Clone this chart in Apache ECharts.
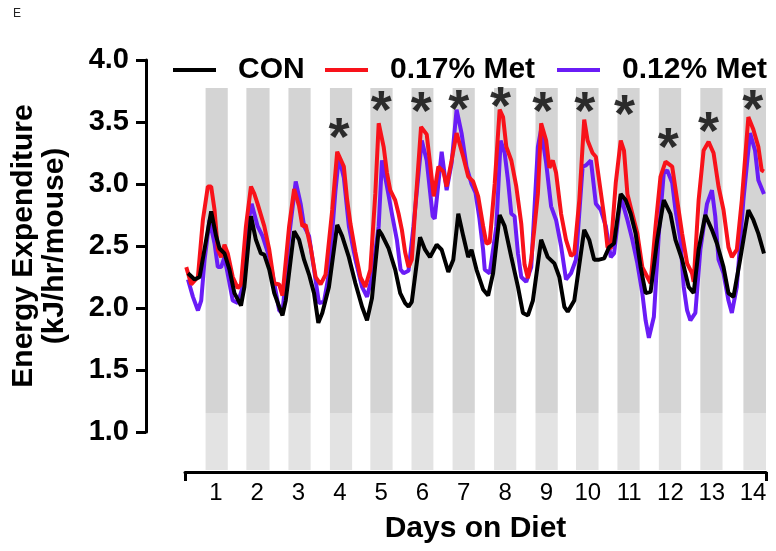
<!DOCTYPE html>
<html><head><meta charset="utf-8">
<script src="https://cdn.jsdelivr.net/npm/echarts@6/dist/echarts.min.js"></script>
<style>html,body{margin:0;padding:0;background:#fff}#c{width:776px;height:551px}</style>
</head><body><div id="c"></div>
<script>
// ---- data ----
const dayTicks = [1,2,3,4,5,6,7,8,9,10,11,12,13,14];
const seriesNames = ['CON','0.17% Met','0.12% Met'];
// dark (lights-off) phases, in days on diet
const darkPhases = [[0.752,1.289],[1.739,2.300],[2.757,3.294],[3.761,4.298],[4.739,5.278],[5.735,6.265],[6.729,7.266],[7.733,8.270],[8.735,9.274],[9.715,10.261],[10.718,11.255],[11.720,12.259],[12.724,13.261],[13.766,14.313]];
const conData = [[0.326,2.28],[0.487,2.23],[0.608,2.25],[0.887,2.78],[1.007,2.58],[1.089,2.48],[1.209,2.44],[1.330,2.31],[1.450,2.12],[1.609,2.02],[1.691,2.17],[1.850,2.74],[1.970,2.55],[2.091,2.44],[2.172,2.43],[2.293,2.31],[2.413,2.12],[2.533,2.01],[2.613,1.94],[2.692,2.06],[2.895,2.62],[3.015,2.55],[3.135,2.39],[3.256,2.27],[3.376,2.12],[3.480,1.88],[3.576,1.96],[3.737,2.17],[3.937,2.67],[4.057,2.58],[4.219,2.41],[4.377,2.20],[4.539,2.01],[4.659,1.90],[4.779,2.08],[4.941,2.63],[5.020,2.59],[5.181,2.48],[5.340,2.31],[5.461,2.12],[5.581,2.04],[5.663,2.01],[5.742,2.05],[5.942,2.57],[6.063,2.47],[6.183,2.41],[6.344,2.51],[6.465,2.47],[6.626,2.29],[6.746,2.39],[6.867,2.76],[6.987,2.58],[7.107,2.41],[7.187,2.47],[7.307,2.31],[7.468,2.15],[7.589,2.10],[7.709,2.28],[7.868,2.75],[7.989,2.66],[8.150,2.41],[8.311,2.17],[8.431,1.96],[8.552,1.94],[8.672,2.06],[8.872,2.55],[9.033,2.41],[9.192,2.36],[9.312,2.25],[9.433,2.01],[9.515,1.97],[9.674,2.06],[9.914,2.63],[10.035,2.55],[10.155,2.39],[10.275,2.39],[10.396,2.40],[10.516,2.49],[10.636,2.52],[10.798,2.92],[10.918,2.87],[11.039,2.76],[11.159,2.60],[11.279,2.33],[11.400,2.12],[11.520,2.13],[11.681,2.55],[11.840,2.87],[12.001,2.76],[12.122,2.55],[12.283,2.39],[12.442,2.17],[12.562,2.12],[12.683,2.47],[12.844,2.75],[13.005,2.63],[13.126,2.52],[13.285,2.33],[13.405,2.12],[13.526,2.09],[13.687,2.39],[13.886,2.79],[14.007,2.71],[14.128,2.60],[14.264,2.44]];
const met017Data = [[0.285,2.33],[0.405,2.19],[0.567,2.25],[0.687,2.71],[0.807,2.98],[0.887,2.98],[0.969,2.79],[1.048,2.47],[1.128,2.41],[1.209,2.51],[1.289,2.44],[1.409,2.25],[1.530,2.16],[1.609,2.19],[1.729,2.66],[1.850,2.98],[1.932,2.92],[2.011,2.84],[2.172,2.66],[2.293,2.47],[2.413,2.20],[2.533,2.19],[2.613,2.10],[2.774,2.66],[2.895,2.96],[3.015,2.82],[3.094,2.66],[3.174,2.67],[3.294,2.49],[3.415,2.25],[3.535,2.19],[3.655,2.27],[3.817,2.79],[3.937,3.26],[3.985,3.27],[4.098,3.14],[4.178,2.87],[4.257,2.68],[4.377,2.45],[4.498,2.25],[4.618,2.17],[4.739,2.31],[4.859,2.92],[4.941,3.49],[5.061,3.30],[5.141,3.09],[5.220,2.95],[5.340,2.87],[5.422,2.76],[5.502,2.63],[5.581,2.45],[5.663,2.33],[5.742,2.39],[5.822,2.79],[5.966,3.46],[6.103,3.40],[6.183,3.17],[6.272,2.90],[6.385,3.14],[6.506,3.10],[6.585,2.98],[6.706,3.19],[6.826,3.41],[6.987,3.22],[7.107,3.06],[7.227,3.02],[7.348,2.90],[7.468,2.66],[7.548,2.52],[7.627,2.53],[7.748,3.00],[7.868,3.60],[7.950,3.54],[8.029,3.30],[8.150,3.19],[8.270,2.98],[8.391,2.68],[8.470,2.35],[8.552,2.24],[8.632,2.39],[8.793,2.92],[8.872,3.49],[8.993,3.35],[9.072,3.13],[9.154,3.19],[9.233,3.09],[9.354,2.76],[9.474,2.55],[9.595,2.42],[9.674,2.44],[9.795,2.87],[9.914,3.52],[9.996,3.35],[10.116,3.25],[10.196,3.22],[10.275,3.03],[10.396,2.74],[10.478,2.49],[10.557,2.48],[10.678,3.01],[10.798,3.35],[10.877,3.27],[10.959,2.92],[11.079,2.76],[11.200,2.60],[11.320,2.33],[11.441,2.25],[11.520,2.20],[11.641,2.66],[11.761,3.06],[11.882,3.18],[12.043,3.14],[12.163,2.87],[12.283,2.60],[12.404,2.36],[12.524,2.28],[12.562,2.21],[12.683,2.87],[12.803,3.27],[12.924,3.34],[13.044,3.25],[13.164,2.98],[13.285,2.79],[13.405,2.49],[13.487,2.41],[13.607,2.47],[13.728,2.87],[13.886,3.54],[14.007,3.44],[14.128,3.30],[14.209,3.11],[14.264,3.10]];
const met012Data = [[0.326,2.23],[0.446,2.09],[0.567,1.98],[0.646,2.06],[0.728,2.39],[0.848,2.71],[0.969,2.52],[1.048,2.33],[1.128,2.33],[1.209,2.41],[1.330,2.20],[1.409,2.06],[1.530,2.04],[1.650,2.17],[1.770,2.66],[1.867,2.84],[2.011,2.66],[2.131,2.58],[2.293,2.41],[2.413,2.20],[2.533,1.98],[2.613,1.96],[2.774,2.58],[2.933,3.02],[3.053,2.84],[3.135,2.66],[3.256,2.58],[3.376,2.31],[3.496,2.04],[3.617,2.05],[3.737,2.28],[3.896,2.95],[3.978,3.22],[4.098,3.05],[4.219,2.66],[4.377,2.39],[4.539,2.17],[4.659,2.09],[4.779,2.25],[4.941,2.66],[5.020,3.19],[5.141,2.98],[5.261,2.76],[5.381,2.55],[5.470,2.31],[5.542,2.28],[5.663,2.30],[5.783,2.66],[5.983,3.35],[6.103,3.19],[6.248,2.74],[6.296,2.72],[6.465,3.26],[6.585,2.95],[6.706,3.17],[6.826,3.60],[6.946,3.41],[7.066,3.14],[7.187,3.00],[7.283,2.93],[7.379,2.72],[7.468,2.47],[7.507,2.31],[7.627,2.28],[7.789,2.66],[7.892,3.35],[7.989,3.25],[8.070,3.03],[8.150,2.76],[8.229,2.74],[8.311,2.44],[8.391,2.25],[8.511,2.21],[8.632,2.33],[8.793,3.30],[8.872,3.44],[8.993,3.17],[9.113,2.82],[9.233,2.71],[9.354,2.50],[9.474,2.23],[9.595,2.28],[9.714,2.39],[9.876,3.14],[9.955,3.15],[10.076,3.19],[10.196,2.84],[10.316,2.79],[10.436,2.66],[10.557,2.41],[10.636,2.44],[10.798,2.90],[10.959,2.71],[11.079,2.55],[11.200,2.36],[11.320,2.12],[11.400,1.90],[11.479,1.76],[11.600,1.93],[11.720,2.60],[11.840,3.09],[11.922,3.11],[12.043,3.01],[12.122,2.79],[12.242,2.55],[12.322,2.17],[12.404,1.98],[12.483,1.90],[12.604,1.96],[12.724,2.47],[12.885,2.84],[13.005,2.95],[13.085,2.74],[13.164,2.39],[13.285,2.28],[13.405,2.06],[13.487,1.96],[13.607,2.17],[13.766,2.87],[13.927,3.41],[14.048,3.27],[14.128,3.03],[14.264,2.92]];
// significance asterisks: [day, energy level]
const sigMarks = [[3.98,3.45],[5.00,3.67],[5.97,3.66],[6.88,3.68],[7.89,3.70],[8.91,3.66],[9.93,3.66],[10.89,3.64],[11.95,3.37],[12.92,3.50],[13.99,3.68]];
const xRange = [0.254, 14.313];
const yRange = [1.0, 4.0, 0.5];

// ---- chart ----
const FONT = '"Liberation Sans", Arial, Helvetica, sans-serif';
const chart = echarts.init(document.getElementById('c'), null, {renderer:'canvas'});
const legendBase = {
  icon: 'rect', itemWidth: 43, itemHeight: 4, top: 50,
  textStyle: {fontFamily: FONT, fontSize: 30, fontWeight: 'bold', color: '#000', padding: [0,0,0,17]}
};
chart.setOption({
  animation: false,
  backgroundColor: '#fff',
  title: {text: 'E', left: 8, top: 3, textStyle: {fontFamily: FONT, fontSize: 12, fontWeight: 'normal', color: '#222'}},
  legend: [
    Object.assign({}, legendBase, {data: [seriesNames[0]], left: 168}),
    Object.assign({}, legendBase, {data: [seriesNames[1]], left: 320}),
    Object.assign({}, legendBase, {data: [seriesNames[2]], left: 552})
  ],
  grid: {left: 182, right: 10, top: 60, height: 372, containLabel: false},
  xAxis: {
    type: 'value', min: xRange[0], max: xRange[1], offset: 40,
    name: 'Days on Diet', nameLocation: 'middle', nameGap: 42,
    nameTextStyle: {fontFamily: FONT, fontSize: 30, fontWeight: 'bold', color: '#000'},
    axisLine: {show: true, lineStyle: {color: '#000', width: 3}},
    axisTick: {show: true, customValues: [xRange[0], xRange[1]], length: 9, lineStyle: {color: '#000', width: 3}},
    axisLabel: {customValues: dayTicks, fontFamily: FONT, fontSize: 24, color: '#000', margin: 9},
    splitLine: {show: false}
  },
  yAxis: {
    type: 'value', min: yRange[0], max: yRange[1], interval: yRange[2], offset: 39,
    name: 'Energy Expenditure\n(kJ/hr/mouse)', nameLocation: 'middle', nameGap: 76, nameRotate: 90,
    nameTextStyle: {fontFamily: FONT, fontSize: 30, fontWeight: 'bold', color: '#000', lineHeight: 31, align: 'center'},
    axisLine: {show: true, lineStyle: {color: '#000', width: 3}},
    axisTick: {show: true, length: 10, lineStyle: {color: '#000', width: 3}},
    axisLabel: {formatter: v => v.toFixed(1), fontFamily: FONT, fontSize: 29, fontWeight: 'bold', color: '#000', margin: 17},
    splitLine: {show: false}
  },
  series: [
    {
      type: 'custom', name: 'dark', data: darkPhases, silent: true, z: 0, clip: false,
      renderItem: function (params, api) {
        const s = api.value(0), e = api.value(1);
        const pTop = api.coord([s, 3.774]);
        const pMid = api.coord([e, 1.153]);
        const pBot = api.coord([e, 0.694]);
        return {type: 'group', children: [
          {type: 'rect', shape: {x: pTop[0], y: pTop[1], width: pMid[0]-pTop[0], height: pMid[1]-pTop[1]}, style: {fill: '#d4d4d4'}},
          {type: 'rect', shape: {x: pTop[0], y: pMid[1], width: pMid[0]-pTop[0], height: pBot[1]-pMid[1]}, style: {fill: '#e3e3e3'}}
        ]};
      }
    },
    {type: 'line', name: seriesNames[2], data: met012Data, showSymbol: false, color: '#6a1cf6', lineStyle: {width: 4}, z: 2},
    {type: 'line', name: seriesNames[1], data: met017Data, showSymbol: false, color: '#f8121a', lineStyle: {width: 4}, z: 3},
    {type: 'line', name: seriesNames[0], data: conData, showSymbol: false, color: '#000000', lineStyle: {width: 4}, z: 4},
    {
      type: 'scatter', name: 'sig', data: sigMarks, symbolSize: 1, silent: true, z: 5,
      itemStyle: {color: 'rgba(0,0,0,0)'},
      label: {show: true, position: 'inside', formatter: '*', fontFamily: FONT, fontSize: 54, fontWeight: 'bold', color: '#000', offset: [0, 12]}
    }
  ]
});
</script>
</body></html>
